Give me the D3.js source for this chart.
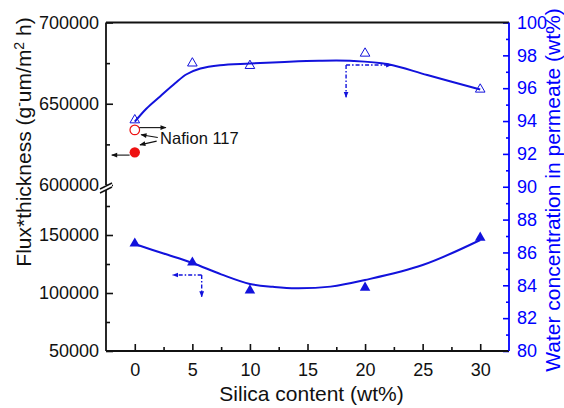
<!DOCTYPE html>
<html><head><meta charset="utf-8">
<script src="https://cdn.jsdelivr.net/npm/d3@7"></script>
<style>
body{margin:0;background:#fff}
svg{display:block}
text{font-family:"Liberation Sans",Arial,Helvetica,sans-serif}
</style>
</head><body>
<svg id="chart" width="564" height="408"></svg>
<script>
// ---- data ----
const silica = [0, 5, 10, 20, 30];
const fluxThickness = [142700, 126300, 102200, 104600, 147700];
const waterConc = [94.06, 97.52, 97.37, 98.12, 95.93];
const fluxFitX = [0, 2.5, 5, 7.5, 10, 12, 14, 17, 20, 25, 30];
const fluxFitY = [142200, 134000, 125900, 116100, 107800, 105300, 104000, 105500, 111200, 124100, 145700];
const waterFitX = [0, 1, 2.2, 3.5, 4.5, 5.7, 7.4, 10, 13, 16, 19, 22, 25.4, 30];
const waterFitY = [93.96, 94.75, 95.5, 96.3, 96.85, 97.2, 97.4, 97.5, 97.6, 97.67, 97.66, 97.46, 96.8, 95.92];
const nafionX = 0;
const nafionFlux = 620100;
const nafionWater = 93.46;
const nafionLabel = "Nafion 117";
const xTicks = [0, 5, 10, 15, 20, 25, 30];
const xMinorTicks = [2.5, 7.5, 12.5, 17.5, 22.5, 27.5];
const leftTicksUpper = [600000, 650000, 700000];
const leftMinorUpper = [625000, 675000];
const leftTicksLower = [50000, 100000, 150000];
const leftMinorLower = [75000, 125000, 175000];
const rightTicks = [80, 82, 84, 86, 88, 90, 92, 94, 96, 98, 100];
const rightMinor = [81, 83, 85, 87, 89, 91, 93, 95, 97, 99];
const xTitle = "Silica content (wt%)";
const rightTitle = "Water concentration in permeate (wt%)";

// ---- layout ----
const L = 106, R = 509, T = 22.5, B = 351;
const BLUE = "#1212dc", AXBLUE = "#0000ff", RED = "#ee1111";
const svg = d3.select("#chart");

const x = d3.scaleLinear().domain([-2.5, 32.5]).range([L, R]);
const yUp = d3.scaleLinear().domain([600000, 700000]).range([185, T]);
const yLow = d3.scaleLinear().domain([50000, 150000]).range([B, 235]);
const yR = d3.scaleLinear().domain([80, 100]).range([B, T]);

const defs = svg.append("defs");
function arrowMarker(id, color, w, h) {
  defs.append("marker").attr("id", id).attr("viewBox", "0 0 10 10")
    .attr("refX", 9).attr("refY", 5).attr("markerWidth", w).attr("markerHeight", h)
    .attr("orient", "auto").attr("markerUnits", "userSpaceOnUse")
    .append("path").attr("d", "M0,1 L10,5 L0,9 Z").attr("fill", color);
}
arrowMarker("arrK", "#111", 7, 6);
arrowMarker("arrB", BLUE, 6, 6);

function styleAxis(g, color) {
  g.select(".domain").remove();
  g.selectAll("line").attr("stroke", color).attr("stroke-width", 1.6);
  g.selectAll("text").attr("fill", color).attr("font-size", 18);
}

// ---- x axis ----
svg.append("g").attr("transform", `translate(0,${B})`)
  .call(d3.axisBottom(x).tickValues(xTicks).tickFormat(d3.format("d")).tickSizeInner(-7).tickSizeOuter(0).tickPadding(12))
  .call(g => styleAxis(g, "#111"));
svg.append("g").attr("transform", `translate(0,${B})`)
  .call(d3.axisBottom(x).tickValues(xMinorTicks).tickFormat("").tickSizeInner(-4).tickSizeOuter(0))
  .call(g => styleAxis(g, "#111"));

// ---- left axis (broken) ----
svg.append("g").attr("transform", `translate(${L},0)`)
  .call(d3.axisLeft(yUp).tickValues(leftTicksUpper).tickFormat(d3.format("d")).tickSizeInner(-7).tickSizeOuter(0).tickPadding(7))
  .call(g => styleAxis(g, "#111"));
svg.append("g").attr("transform", `translate(${L},0)`)
  .call(d3.axisLeft(yUp).tickValues(leftMinorUpper).tickFormat("").tickSizeInner(-4).tickSizeOuter(0))
  .call(g => styleAxis(g, "#111"));
svg.append("g").attr("transform", `translate(${L},0)`)
  .call(d3.axisLeft(yLow).tickValues(leftTicksLower).tickFormat(d3.format("d")).tickSizeInner(-7).tickSizeOuter(0).tickPadding(7))
  .call(g => styleAxis(g, "#111"));
svg.append("g").attr("transform", `translate(${L},0)`)
  .call(d3.axisLeft(yLow).tickValues(leftMinorLower).tickFormat("").tickSizeInner(-4).tickSizeOuter(0))
  .call(g => styleAxis(g, "#111"));

// ---- right axis ----
svg.append("g").attr("transform", `translate(${R},0)`)
  .call(d3.axisRight(yR).tickValues(rightTicks).tickFormat(d3.format("d")).tickSizeInner(-6).tickSizeOuter(0).tickPadding(8))
  .call(g => styleAxis(g, AXBLUE));
svg.append("g").attr("transform", `translate(${R},0)`)
  .call(d3.axisRight(yR).tickValues(rightMinor).tickFormat("").tickSizeInner(-3).tickSizeOuter(0))
  .call(g => styleAxis(g, AXBLUE));

// ---- frame lines ----
const brk = yUp(600000);
svg.append("line").attr("x1", L).attr("x2", R).attr("y1", T).attr("y2", T).attr("stroke", "#111").attr("stroke-width", 1.8);
svg.append("line").attr("x1", L).attr("x2", R).attr("y1", B).attr("y2", B).attr("stroke", "#111").attr("stroke-width", 1.8);
svg.append("line").attr("x1", L).attr("x2", L).attr("y1", T).attr("y2", brk).attr("stroke", "#111").attr("stroke-width", 1.8);
svg.append("line").attr("x1", L).attr("x2", L).attr("y1", brk + 4).attr("y2", B).attr("stroke", "#111").attr("stroke-width", 1.8);
svg.append("line").attr("x1", R).attr("x2", R).attr("y1", T).attr("y2", B).attr("stroke", AXBLUE).attr("stroke-width", 1.8);
// break marks
svg.append("path").attr("d", `M${L - 6},${brk + 4} L${L + 6},${brk - 2} L${L + 6},${brk + 2} L${L - 6},${brk + 8} Z`).attr("fill", "#fff");
svg.append("line").attr("x1", L - 6).attr("y1", brk + 4).attr("x2", L + 6).attr("y2", brk - 2).attr("stroke", "#111").attr("stroke-width", 1.5);
svg.append("line").attr("x1", L - 6).attr("y1", brk + 8).attr("x2", L + 6).attr("y2", brk + 2).attr("stroke", "#111").attr("stroke-width", 1.5);

// ---- fitted curves ----
const fluxFit = fluxFitX.map((v, i) => [v, fluxFitY[i]]);
const waterFit = waterFitX.map((v, i) => [v, waterFitY[i]]);
svg.append("path").datum(fluxFit)
  .attr("d", d3.line().x(d => x(d[0])).y(d => yLow(d[1])).curve(d3.curveCatmullRom.alpha(0.5)))
  .attr("fill", "none").attr("stroke", BLUE).attr("stroke-width", 2);
svg.append("path").datum(waterFit)
  .attr("d", d3.line().x(d => x(d[0])).y(d => yR(d[1])).curve(d3.curveCatmullRom.alpha(0.5)))
  .attr("fill", "none").attr("stroke", BLUE).attr("stroke-width", 2);

// ---- markers ----
const tri = d3.symbol().type(d3.symbolTriangle).size(48);
const triO = d3.symbol().type(d3.symbolTriangle).size(40);
svg.append("g").selectAll("path").data(silica).join("path")
  .attr("transform", (d, i) => `translate(${x(d)},${yLow(fluxThickness[i])})`)
  .attr("d", tri).attr("fill", BLUE);
svg.append("g").selectAll("path").data(silica).join("path")
  .attr("transform", (d, i) => `translate(${x(d)},${yR(waterConc[i])})`)
  .attr("d", triO).attr("fill", "none").attr("stroke", BLUE).attr("stroke-width", 1);

// Nafion points
svg.append("circle").attr("cx", x(nafionX)).attr("cy", yR(nafionWater)).attr("r", 4.8)
  .attr("fill", "none").attr("stroke", RED).attr("stroke-width", 1.2);
svg.append("circle").attr("cx", x(nafionX)).attr("cy", yUp(nafionFlux)).attr("r", 5.2).attr("fill", RED);

// axis-direction arrows for Nafion
svg.append("line").attr("x1", x(0.4)).attr("x2", x(2.7)).attr("y1", yR(93.6)).attr("y2", yR(93.6))
  .attr("stroke", "#111").attr("stroke-width", 1.1).attr("marker-end", "url(#arrK)");
svg.append("line").attr("x1", x(-0.45)).attr("x2", x(-2.0)).attr("y1", yUp(618400)).attr("y2", yUp(618400))
  .attr("stroke", "#111").attr("stroke-width", 1.1).attr("marker-end", "url(#arrK)");
// label + leaders
svg.append("text").attr("x", x(2.2)).attr("y", yR(93.2) + 10).attr("font-size", 16.5).attr("fill", "#111").text(nafionLabel);
svg.append("line").attr("x1", x(2.0)).attr("y1", yR(93.0)).attr("x2", x(0.55)).attr("y2", yR(93.17))
  .attr("stroke", "#111").attr("stroke-width", 1.1).attr("marker-end", "url(#arrK)");
svg.append("line").attr("x1", x(1.9)).attr("y1", yUp(627000)).attr("x2", x(0.45)).attr("y2", yUp(624700))
  .attr("stroke", "#111").attr("stroke-width", 1.1).attr("marker-end", "url(#arrK)");

// dash-dot axis indicator arrows
function elbow(cx, cy, hx, vy) {
  svg.append("line").attr("x1", cx).attr("y1", cy).attr("x2", hx).attr("y2", cy)
    .attr("stroke", BLUE).attr("stroke-width", 1.4).attr("stroke-dasharray", "4,2,1.5,2").attr("marker-end", "url(#arrB)");
  svg.append("line").attr("x1", cx).attr("y1", cy).attr("x2", cx).attr("y2", vy)
    .attr("stroke", BLUE).attr("stroke-width", 1.4).attr("stroke-dasharray", "4,2,1.5,2").attr("marker-end", "url(#arrB)");
}
elbow(x(18.35), yR(97.41), x(22.3), yR(95.45));
elbow(x(5.81), yLow(115500), x(3.3), yLow(96800));

// ---- titles ----
svg.append("text").attr("x", (L + R) / 2 + 4).attr("y", 401).attr("text-anchor", "middle")
  .attr("font-size", 21).attr("fill", "#111").text(xTitle);
const lt = svg.append("text").attr("transform", "translate(31,142) rotate(-90)").attr("text-anchor", "middle")
  .attr("font-size", 21).attr("fill", "#111");
lt.append("tspan").text("Flux*thickness (g");
lt.append("tspan").attr("dy", -7).attr("font-size", 14).text("-");
lt.append("tspan").attr("dy", 7).text("um/m");
lt.append("tspan").attr("dy", -7).attr("font-size", 14).text("2");
lt.append("tspan").attr("dy", 7).text(" h)");
svg.append("text").attr("transform", "translate(560,190) rotate(-90)").attr("text-anchor", "middle")
  .attr("font-size", 21).attr("fill", AXBLUE).text(rightTitle);
</script>
</body></html>
